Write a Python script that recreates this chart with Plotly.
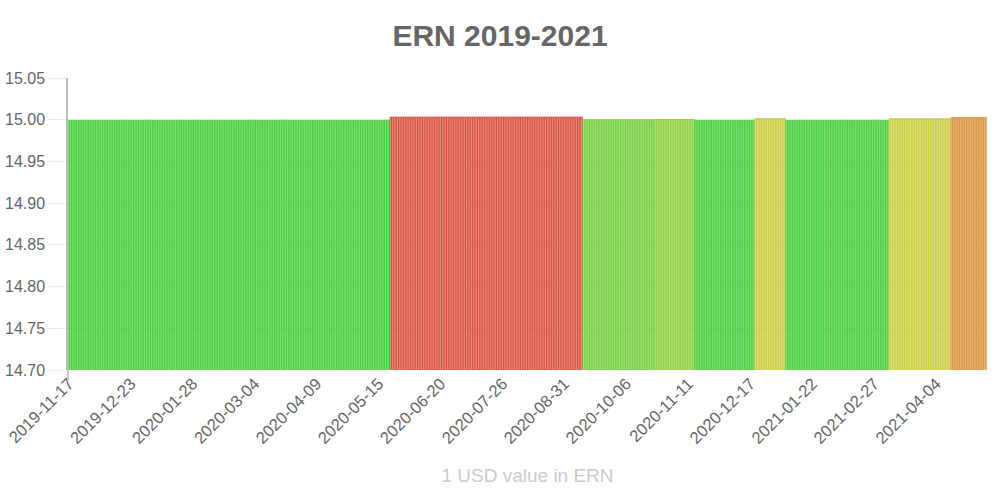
import pandas as pd
import plotly.graph_objects as go

start_date = "2019-11-17"
run_values = [14.9992, 15.0032, 15.0000, 15.0004, 14.9992, 15.0014, 14.9992, 15.0013, 15.0027]
run_lengths = [187, 112, 42, 23, 35, 18, 60, 36, 21]
tick_labels = ["2019-11-17", "2019-12-23", "2020-01-28", "2020-03-04", "2020-04-09",
               "2020-05-15", "2020-06-20", "2020-07-26", "2020-08-31", "2020-10-06",
               "2020-11-11", "2020-12-17", "2021-01-22", "2021-02-27", "2021-04-04"]

values = []
for v, n in zip(run_values, run_lengths):
    values += [v] * n
dates = pd.date_range(start_date, periods=len(values), freq="D").strftime("%Y-%m-%d").tolist()

cmin, cmax = 14.9990, 15.0032
line_scale = [[0.0, "rgb(45,205,45)"], [0.3, "rgb(125,205,50)"], [0.55, "rgb(200,205,50)"],
              [0.85, "rgb(215,160,50)"], [1.0, "rgb(215,70,50)"]]
fill_scale = [[s, c.replace("rgb", "rgba").replace(")", ",0.45)")] for s, c in line_scale]

fig = go.Figure(go.Bar(
    x=dates, y=values,
    marker=dict(color=values, colorscale=fill_scale, cmin=cmin, cmax=cmax,
                line=dict(color=values, colorscale=line_scale, cmin=cmin, cmax=cmax, width=0.7)),
    hoverinfo="x+y",
))

font_family = "Liberation Sans, Arial, Helvetica, sans-serif"
fig.update_layout(
    width=1000, height=500,
    paper_bgcolor="white", plot_bgcolor="white",
    margin=dict(l=68, r=13, t=78, b=130),
    bargap=0.08,
    showlegend=False,
    font=dict(family=font_family, color="#666"),
    title=dict(text="<b>ERN 2019-2021</b>", x=0.5, xanchor="center", y=1 - 35 / 500, yanchor="middle",
               font=dict(size=30, color="#666", family=font_family)),
    shapes=[dict(type="line", xref="paper", yref="paper", x0=0, x1=0, y0=0, y1=-10 / 292,
                 line=dict(color="#bbb", width=1.5))],
)
fig.update_xaxes(
    type="category", tickmode="array", tickvals=tick_labels, ticktext=tick_labels,
    tickangle=-45, tickfont=dict(size=16.5, color="#666"),
    showgrid=False, zeroline=False, showline=False, ticks="", automargin=False,
    range=[-0.5, len(values) - 0.5],
    title=dict(text="1 USD value in ERN", font=dict(size=19, color="#ccc"), standoff=22),
)
fig.update_yaxes(
    range=[14.70, 15.05], dtick=0.05, tick0=14.70, tickformat=".2f",
    tickfont=dict(size=16, color="#666"), automargin=False,
    showgrid=True, gridcolor="#ebebeb", gridwidth=1,
    ticks="outside", ticklen=18, tickcolor="#ebebeb",
    showline=True, linecolor="#bbb", linewidth=1.5,
    zeroline=False,
)
fig.write_html("out.html", config={"displayModeBar": False},
               post_script="document.body.style.margin='0';document.body.style.overflow='hidden';")
